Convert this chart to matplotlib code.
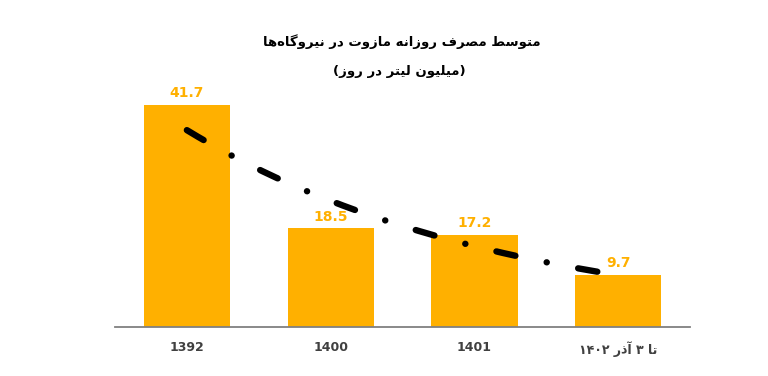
import re
import numpy as np
import matplotlib
matplotlib.use('Agg')
import matplotlib.pyplot as plt

categories = ['1392', '1400', '1401', 'تا ۳ آذر ۱۴۰۲']
values = [41.7, 18.5, 17.2, 9.7]
title1 = 'متوسط مصرف روزانه مازوت در نیروگاه‌ها'
title2 = '(میلیون لیتر در روز)'

# arabic presentation forms: isolated, final, initial, medial
FORMS = {
    'ا': (0xFE8D, 0xFE8E), 'آ': (0xFE81, 0xFE82),
    'ب': (0xFE8F, 0xFE90, 0xFE91, 0xFE92), 'ت': (0xFE95, 0xFE96, 0xFE97, 0xFE98),
    'د': (0xFEA9, 0xFEAA), 'ذ': (0xFEAB, 0xFEAC), 'ر': (0xFEAD, 0xFEAE),
    'ز': (0xFEAF, 0xFEB0), 'و': (0xFEED, 0xFEEE),
    'س': (0xFEB1, 0xFEB2, 0xFEB3, 0xFEB4), 'ص': (0xFEB9, 0xFEBA, 0xFEBB, 0xFEBC),
    'ط': (0xFEC1, 0xFEC2, 0xFEC3, 0xFEC4), 'ف': (0xFED1, 0xFED2, 0xFED3, 0xFED4),
    'ل': (0xFEDD, 0xFEDE, 0xFEDF, 0xFEE0), 'م': (0xFEE1, 0xFEE2, 0xFEE3, 0xFEE4),
    'ن': (0xFEE5, 0xFEE6, 0xFEE7, 0xFEE8), 'ه': (0xFEE9, 0xFEEA, 0xFEEB, 0xFEEC),
    'ی': (0xFEEF, 0xFEF0, 0xFEF3, 0xFEF4), 'گ': (0xFB92, 0xFB93, 0xFB94, 0xFB95),
}


def farsi(text):
    out = []
    for i, c in enumerate(text):
        if c not in FORMS:
            out.append(c)
            continue
        f = FORMS[c]
        prev = text[i - 1] if i > 0 else ''
        nxt = text[i + 1] if i + 1 < len(text) else ''
        jp = prev in FORMS and len(FORMS[prev]) == 4
        jn = len(f) == 4 and nxt in FORMS
        if jp and jn:
            g = f[3]
        elif jp:
            g = f[1]
        elif jn:
            g = f[2]
        else:
            g = f[0]
        out.append(chr(g))
    s = ''.join(c for c in out if c != '\u200c')
    runs = re.findall(r'[0-9\u06f0-\u06f9]+|[^0-9\u06f0-\u06f9]', s)
    vis = ''.join(reversed(runs))
    return vis.translate(str.maketrans('()', ')('))


plt.rcParams['font.family'] = ['DejaVu Sans']
plt.rcParams['lines.scale_dashes'] = False

fig = plt.figure(figsize=(7.68, 3.76), dpi=100)
ax = fig.add_axes([115 / 768, 1 - 327 / 376, 575 / 768, 240 / 376])

orange = '#FFB000'
x = np.arange(len(values))
ax.bar(x, values, width=0.6, color=orange, zorder=2)
for xi, v in zip(x, values):
    ax.annotate(f'{v}', (xi, v), xytext=(0, 8.5), textcoords='offset points',
                ha='center', va='center', color=orange,
                fontsize=10, fontweight='bold')

# exponential trendline like excel
k = np.arange(1, len(values) + 1)
slope, icpt = np.polyfit(k, np.log(values), 1)
tx = np.linspace(1, len(values), 200)
ax.plot(tx - 1, np.exp(icpt + slope * tx), color='black', lw=4.6,
        dashes=(14, 23, 0.1, 23), dash_capstyle='round', zorder=3)

ax.set_xlim(-0.5, 3.5)
ax.set_ylim(0, 45)
ax.set_yticks([])
for s in ['top', 'right', 'left']:
    ax.spines[s].set_visible(False)
ax.spines['bottom'].set_color('#808080')
ax.spines['bottom'].set_linewidth(1.3)
ax.set_xticks(x)
ax.set_xticklabels([farsi(c) for c in categories], fontsize=9,
                   fontweight='bold', color='#404040')
ax.tick_params(axis='x', length=0, pad=10)

fig.text(0.523, 1 - 42 / 376, farsi(title1), ha='center', va='center',
         fontsize=9.5, fontweight='bold')
fig.text(0.52, 1 - 72 / 376, farsi(title2), ha='center', va='center',
         fontsize=9.5, fontweight='bold')

fig.savefig('out.png', dpi=100)
